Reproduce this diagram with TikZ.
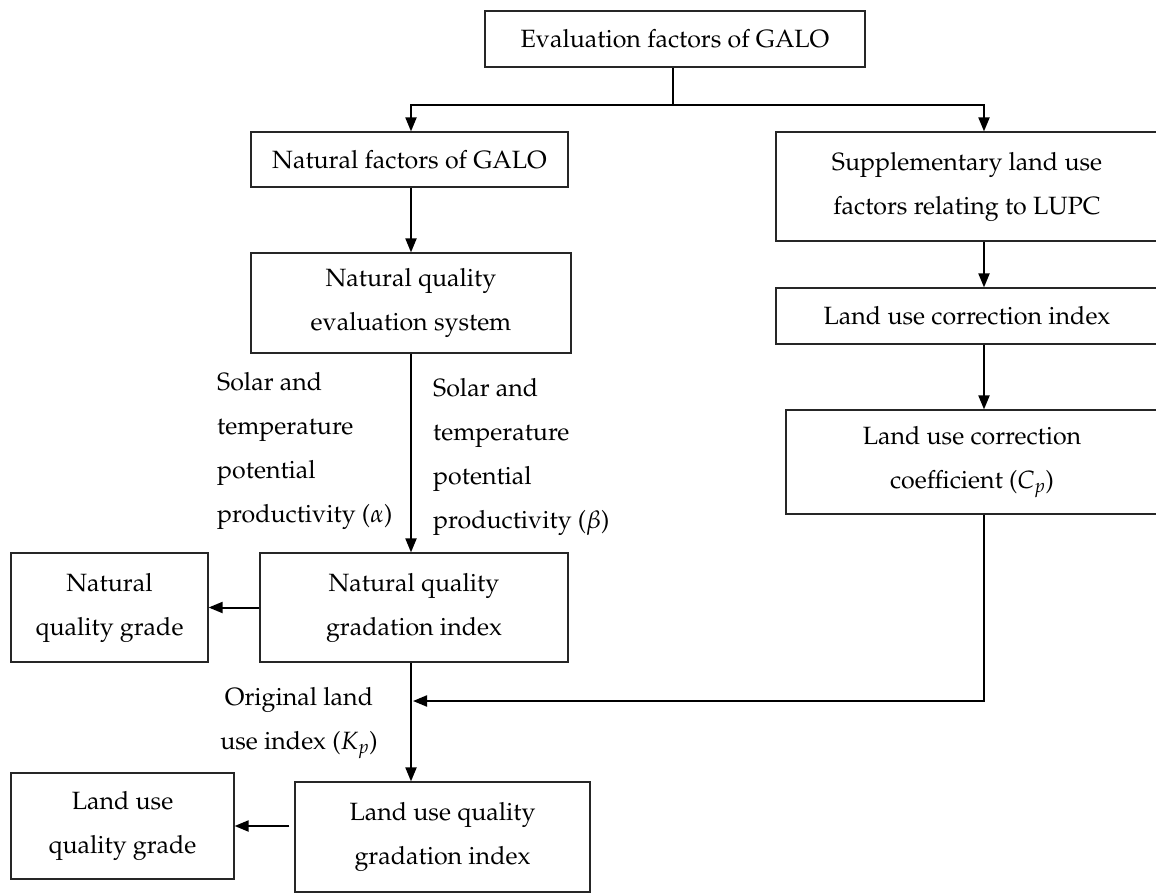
\documentclass[tikz,border=0pt]{standalone}
\usepackage[T1]{fontenc}
\usepackage{mathpazo}
\usetikzlibrary{arrows.meta}
\tikzset{
  hop/.style={draw=black!85, line width=1.2pt, inner sep=0pt, align=center},
  conn/.style={line width=2pt},
  lbl/.style={inner sep=0pt}
}
\begin{document}
\begin{tikzpicture}[x=1pt, y=-1pt, >={Triangle[length=14pt,width=11pt]}, font=\fontsize{25}{44}\selectfont]
	\useasboundingbox (0,0) rectangle (1156,893);
	% boxes
	\node[hop, minimum width=380, minimum height=56] (top) at (675,39) {Evaluation factors of GALO};
	\node[hop, minimum width=317, minimum height=55] (natfac) at (409.5,159.5) {Natural factors of GALO};
	\node[hop, minimum width=382, minimum height=109] (supp) at (967,186.5) {Supplementary land use\\factors relating to LUPC};
	\node[hop, minimum width=320, minimum height=100] (nateval) at (411,303) {Natural quality\\evaluation system};
	\node[hop, minimum width=382, minimum height=56] (lucidx) at (967,316) {Land use correction index};
	\node[hop, minimum width=372, minimum height=104] (lucoef) at (972,462) {Land use correction\\coefficient ($C_p$)};
	\node[hop, minimum width=197, minimum height=109] (natgrade) at (109.5,607.5) {Natural\\quality grade};
	\node[hop, minimum width=308, minimum height=109] (natgrad) at (414,607.5) {Natural quality\\gradation index};
	\node[hop, minimum width=223, minimum height=106] (lugrade) at (122.5,826) {Land use\\quality grade};
	\node[hop, minimum width=295, minimum height=110] (lugrad) at (442.5,837) {Land use quality\\gradation index};
	% labels
	\node[lbl, anchor=north west, align=left] (alpha) at (217,372) {Solar and\\temperature\\potential\\productivity ($\alpha$)};
	\node[lbl, anchor=north west, align=left] (beta) at (433,378) {Solar and\\temperature\\potential\\productivity ($\beta$)};
	\node[lbl, anchor=north, align=center] (kp) at (299,687) {Original land\\use index ($K_p$)};
	% connectors
	\coordinate (lx) at (411,0);
	\coordinate (rx) at (984,0);
	\coordinate (fork) at (0,105);
	\coordinate (join) at (0,701);
	\draw[conn] (top.south -| 673,0) -- (fork -| 673,0);
	\draw[conn,<->] (natfac.north -| lx) -- (fork -| lx) -- (fork -| rx) -- (supp.north -| rx);
	\draw[conn,->] (natfac.south -| lx) -- (nateval.north -| lx);
	\draw[conn,->] (supp.south -| rx) -- (lucidx.north -| rx);
	\draw[conn,->] (lucidx.south -| rx) -- (lucoef.north -| rx);
	\draw[conn,->] (nateval.south -| lx) -- (natgrad.north -| lx);
	\draw[conn,->] (natgrad.west) -- (natgrade.east);
	\draw[conn,->] (natgrad.south -| lx) -- (lugrad.north -| lx);
	\draw[conn,->] (lucoef.south -| rx) |- ([xshift=2pt]join -| lx);
	\draw[conn,->, shorten <=5pt] (lugrade.east -| lugrad.west) -- (lugrade.east);
\end{tikzpicture}
\end{document}
